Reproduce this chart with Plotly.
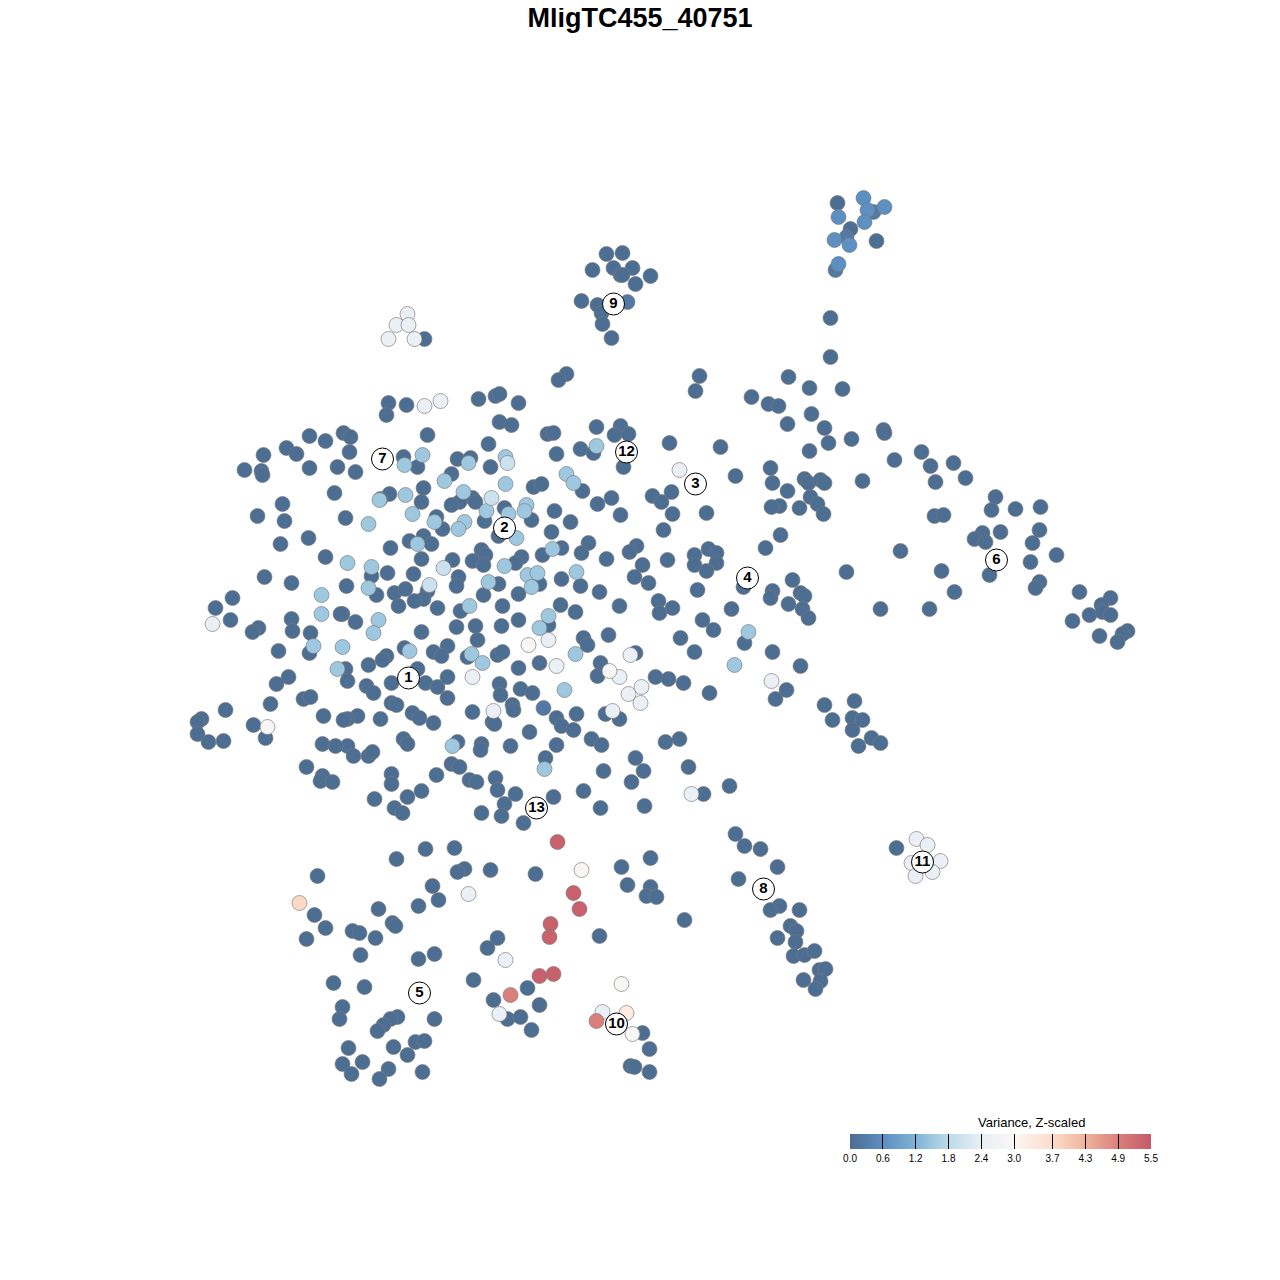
import plotly.graph_objects as go

# cell positions, grouped by variance level
dark = [(424,338),(830,317),(830,356),(606,253),(622,252),(613,267),(632,267),(592,269),(620,274),(622,274),(650,275),(635,283),
(581,300),(597,304),(601,312),(602,323),(611,337),(566,373),(558,379),(699,375),(695,390),(788,376),(809,387),(842,388),(751,396),
(768,403),(778,405),(811,413),(787,423),(824,427),(828,442),(851,438),(809,450),(883,429),(884,432),(921,451),(894,459),(930,465),
(953,462),(965,477),(935,481),(995,496),(991,509),(1015,508),(1040,506),(934,515),(943,514),(1039,529),(982,532),(974,538),(985,541),
(1000,531),(1032,542),(1056,554),(1030,561),(900,550),(941,570),(989,574),(1039,581),(1035,587),(954,591),(880,608),(929,608),(846,571),
(1079,591),(1110,597),(1101,604),(1089,614),(1072,620),(1102,611),(1110,614),(1099,635),(1127,630),(1122,633),(1117,641),
(388,402),(406,404),(386,414),(478,398),(495,395),(499,393),(518,402),(499,421),(511,424),(427,434),(488,443),(547,433),(553,432),
(596,426),(620,425),(614,434),(628,433),(669,442),(720,446),(580,448),(593,452),(556,453),(623,466),(735,475),
(309,435),(325,440),(343,432),(350,436),(286,447),(296,453),(263,454),(349,451),(244,469),(261,470),(262,474),(309,467),(337,466),
(355,471),(403,456),(417,466),(457,458),(470,457),(490,466),(451,473),(582,490),(533,486),(541,483),(423,487),(389,493),(380,498),
(421,501),(472,497),(459,501),(451,504),(475,501),(504,507),(554,510),(597,503),(436,516),(345,517),(442,528),(484,520),(531,519),
(570,521),(551,531),(498,535),(423,535),(409,540),(431,543),(390,547),(588,542),(581,552),(561,547),(542,554),(521,556),(515,562),
(481,549),(485,554),(472,560),(483,564),(452,559),(421,558),(371,575),(387,572),(413,573),(458,576),(456,585),(498,583),(539,583),
(561,578),(580,585),(599,591),(346,585),(376,594),(394,592),(405,588),(427,590),(423,598),(414,600),(398,605),(437,607),(460,610),
(483,594),(518,593),(502,605),(560,604),(575,611),(548,624),(518,619),(501,625),(475,625),(456,626),(342,613),(355,621),(421,631),
(477,639),(583,637),(587,644),(608,634),(404,647),(386,655),(382,659),(368,664),(447,645),(433,651),(441,655),(467,656),(497,654),
(502,651),(539,662),(518,667),(600,662),(635,652),(597,675),(655,676),(345,668),(347,680),(417,668),(391,682),(366,685),(373,692),
(425,682),(437,686),(447,676),(447,697),(499,683),(500,694),(520,688),(532,692),(391,702),(396,704),(412,712),(419,717),(433,722),
(380,718),(357,715),(347,718),(343,719),(472,711),(512,704),(513,709),(492,721),(494,723),(556,717),(561,725),(573,729),(576,713),
(529,731),(605,713),(619,718),(591,738),(601,744),(556,744),(545,757),(510,745),(481,743),(480,749),(403,738),(407,743),(457,741),
(347,745),(353,755),(368,755),(372,751),(451,763),(459,766),(436,774),(469,779),(476,781),(495,777),(497,789),(515,793),(504,803),
(501,815),(481,812),(523,822),(553,796),(583,790),(600,807),(644,805),(631,781),(643,770),(603,770),(635,757),(391,773),(391,783),
(421,790),(407,796),(374,798),(394,807),(402,812),
(611,497),(620,514),(652,495),(661,501),(671,491),(672,513),(706,512),(663,529),(770,467),(772,482),(787,490),(804,478),(808,482),
(820,479),(824,482),(810,496),(817,503),(779,505),(771,506),(799,507),(823,513),(862,480),(780,534),(765,547),(636,545),(629,551),
(606,558),(642,564),(667,559),(694,554),(708,548),(716,552),(716,562),(694,564),(706,570),(634,576),(648,582),(697,589),(743,586),
(772,590),(770,597),(792,579),(800,592),(804,595),(788,603),(802,608),(808,617),(731,608),(658,600),(672,607),(659,612),(619,605),
(702,619),(713,629),(680,637),(694,651),(744,642),(772,651),(800,665),(786,689),(775,698),(709,692),(668,678),(683,682),(824,704),
(854,700),(852,717),(862,719),(832,719),(852,729),(871,737),(880,742),(858,745),(665,741),(679,738),(688,766),(729,785),(703,793),
(282,503),(334,492),(257,515),(284,520),(280,543),(308,537),(325,556),(264,576),(291,582),(232,597),(215,607),(230,619),(291,618),
(340,613),(258,627),(252,631),(292,630),(310,632),(278,650),(309,652),(288,676),(276,683),(303,698),(310,696),(270,703),(225,709),
(201,718),(197,721),(197,733),(208,741),(223,740),(253,724),(265,737),(323,715),(322,743),(335,745),(306,766),(322,775),(320,780),
(332,781),(396,858),(425,848),(454,847),(464,868),(457,871),(490,869),(535,873),(317,875),(432,885),(438,899),(418,905),(378,908),
(314,914),(325,927),(306,938),(352,930),(359,932),(375,937),(392,922),(395,925),(360,954),(418,958),(434,953),(333,982),(364,986),
(473,979),(342,1006),(339,1018),(397,1016),(390,1018),(383,1024),(377,1030),(434,1018),(348,1047),(393,1046),(415,1041),(424,1040),
(407,1054),(342,1063),(362,1061),(351,1073),(388,1068),(379,1078),(422,1071),(621,866),(650,857),(627,884),(650,886),(646,895),
(656,896),(684,919),(599,935),(497,937),(487,947),(527,987),(493,999),(539,1004),(507,1018),(520,1016),(531,1029),(642,1032),
(649,1048),(630,1065),(634,1066),(649,1071),(735,833),(744,845),(760,848),(777,866),(738,878),(779,905),(770,909),(799,909),(790,925),
(796,930),(795,941),(777,937),(793,955),(804,954),(814,950),(819,969),(825,968),(803,979),(820,980),(815,988),(896,847),
(837,202),(850,228),(876,240)]
steel = [(627,301),(543,707),(873,211),(846,236),(835,269)]
blue = [(863,197),(867,209),(884,206),(838,216),(864,221),(834,239),(849,244),(838,263)]
light = [(422,454),(404,464),(468,462),(505,456),(596,445),(444,480),(566,473),(573,482),(505,483),(379,499),(405,494),(463,491),
(526,504),(524,510),(486,510),(508,513),(412,513),(434,521),(368,523),(464,521),(458,528),(516,537),(417,543),(552,548),(504,565),
(347,562),(371,566),(488,581),(527,574),(537,572),(531,586),(576,571),(368,587),(469,605),(548,615),(539,627),(378,619),(373,632),
(321,594),(321,613),(313,645),(342,646),(337,668),(409,650),(471,653),(482,662),(575,653),(564,689),(544,768),(452,745),(748,631),(734,664)]
pale_blue = [(491,497),(507,462),(443,567),(429,584)]
pale = [(407,313),(396,324),(408,324),(388,338),(414,338),(424,405),(440,400),(548,639),(556,665),(630,654),(619,676),(628,693),
(641,686),(640,702),(472,676),(612,710),(493,710),(679,469),(212,623),(771,680),(691,793),(468,893),(505,959),(499,1013),(602,1011),
(916,838),(927,844),(911,862),(940,860),(932,871),(915,875)]
white = [(528,644),(609,670),(267,726),(581,869),(621,983),(632,1033)]
cream = [(626,1012)]
peach = [(299,902)]
rose = [(510,994),(596,1020)]
red = [(557,841),(573,892),(579,908),(550,923),(549,936),(539,975),(553,973)]

groups = [dark, steel, blue, light, pale_blue, pale, white, cream, peach, rose, red]
group_var = [0.03, 0.22, 0.6, 1.5, 2.0, 2.45, 2.9, 3.3, 3.75, 4.9, 5.4]

# cluster labels
label_text = ["1","2","3","4","5","6","7","8","9","10","11","12","13"]
label_x = [408,504,695,747,419,996,382,763,613,616,922,626,536]
label_y = [677,527,483,577,992,559,458,888,303,1023,861,451,807]

tick_vals = [0, 0.6, 1.2, 1.8, 2.4, 3.0, 3.7, 4.3, 4.9, 5.5]
tick_text = ["0.0","0.6","1.2","1.8","2.4","3.0","3.7","4.3","4.9","5.5"]
colors = ["#4c6c91","#5c8fc2","#7fb3d5","#bcdbea","#e8eff6","#fbf7f5","#fddcc9","#f0b49c","#db7f7c","#c45b68"]

x, y, v = [], [], []
for g, val in zip(groups, group_var):
    for px, py in g:
        x.append(px)
        y.append(py)
        v.append(val)

cscale = [[t / 5.5, c] for t, c in zip(tick_vals, colors)]

FONT = "Liberation Sans"
W = 1264  # page body keeps its 8px margin

fig = go.Figure()
fig.add_trace(go.Scatter(
    x=x, y=y, mode="markers", hoverinfo="skip",
    marker=dict(
        size=15, color=v, cmin=0, cmax=5.5, colorscale=cscale,
        line=dict(color="rgba(120,120,120,0.65)", width=1),
        colorbar=dict(
            orientation="h", lenmode="pixels", len=301, thicknessmode="pixels", thickness=15,
            x=(1000.5 - 8) / W, xanchor="center", y=1 - (1134 - 8) / W, yanchor="top",
            xpad=0, ypad=0, outlinewidth=0, tickmode="array", tickvals=tick_vals, ticktext=tick_text,
            ticks="inside", ticklen=15, tickwidth=1, tickcolor="black",
            tickfont=dict(family=FONT, size=10, color="black"),
        ),
    ),
))
fig.add_trace(go.Scatter(
    x=label_x, y=label_y, text=label_text, mode="markers+text", textposition="middle center",
    hoverinfo="skip",
    marker=dict(size=22, color="white", line=dict(color="black", width=1)),
    textfont=dict(family=FONT, size=15, color="black", weight="bold"),
))

fig.add_annotation(
    text="Variance, Z-scaled", xref="paper", yref="paper",
    x=(1031 - 8) / W, y=1 - (1122 - 8) / W, xanchor="center", yanchor="middle", showarrow=False,
    font=dict(family=FONT, size=13, color="black"),
)
fig.update_xaxes(visible=False, range=[7.5, 1271.5])
fig.update_yaxes(visible=False, range=[1271, 7])
fig.update_layout(
    width=W, height=W, margin=dict(l=0, r=0, t=0, b=0),
    plot_bgcolor="white", paper_bgcolor="white", showlegend=False,
    title=dict(
        text="<b>MligTC455_40751</b>", x=0.5, xanchor="center", y=1 - (18 - 8) / W, yanchor="middle",
        font=dict(family=FONT, size=27, color="black"),
    ),
)
fig.write_html("out.html")
